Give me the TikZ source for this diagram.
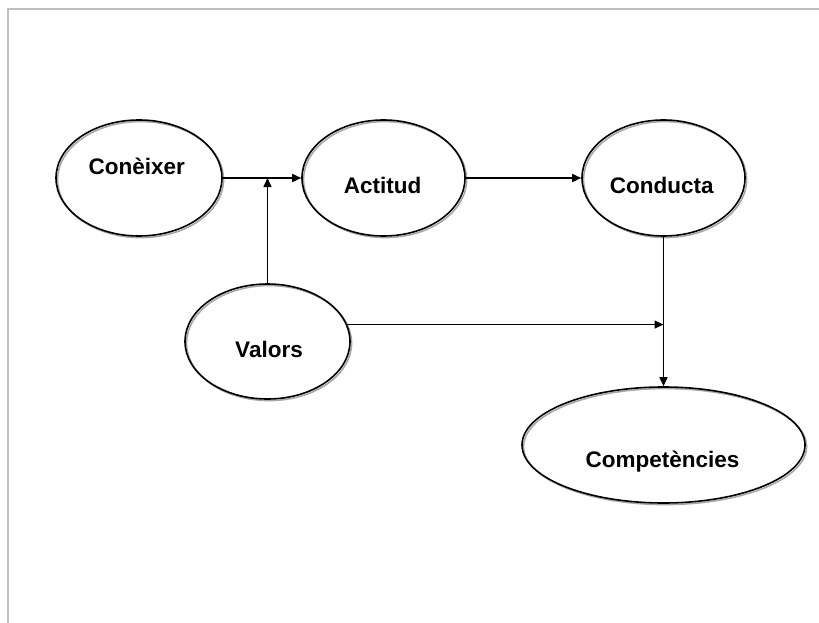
\documentclass[tikz,border=0pt]{standalone}
\usepackage{fontspec}
\setmainfont{Liberation Sans}
\usetikzlibrary{shapes.geometric,arrows.meta}
\begin{document}
\begin{tikzpicture}[x=1pt,y=-1pt,
  bubble/.style={ellipse, draw=black, line width=1.6pt, inner sep=0pt,
    preaction={draw=black!35, line width=1.5pt,
      transform canvas={shift={(1.6pt,-1.6pt)}}}},
  word/.style={font=\fontsize{22.5}{27}\selectfont\bfseries, anchor=base, inner sep=0pt},
  link/.style={line width=1.5pt, -{Triangle[length=9pt,width=8pt]}},
  frameline/.style={draw=black!25, line width=2pt}]
\useasboundingbox (0,0) rectangle (819,623);
% page frame (top and left edges)
\draw[frameline] (7.5,623) -- (7.5,9.5) -- (819,9.5);

% bubbles
\node[bubble, minimum width=166, minimum height=116] (con)  at (139,178)   {};
\node[bubble, minimum width=163, minimum height=116] (act)  at (383.5,178) {};
\node[bubble, minimum width=163, minimum height=116] (cond) at (663.5,178) {};
\node[bubble, minimum width=165, minimum height=115] (val)  at (267.5,341.5) {};
\node[bubble, minimum width=283, minimum height=116] (comp) at (663.5,445) {};

% labels
\node[word] (tcon)  at (136.7,175) {Conèixer};
\node[word] (tact)  at (382.5,193) {Actitud};
\node[word] (tcond) at (661.7,193) {Conducta};
\node[word] (tval)  at (269,357)   {Valors};
\node[word] (tcomp) at (662.5,467) {Competències};

% connectors
\draw[link] (con.east) -- (act.west);
\draw[link] (val.north) -- (val.north |- con.east);
\draw[link] (act.east) -- (cond.west);
\draw[link] (cond.south) -- (cond.south |- comp.north);
\draw[link] (val.12) -- (val.12 -| cond.south);
\end{tikzpicture}
\end{document}
